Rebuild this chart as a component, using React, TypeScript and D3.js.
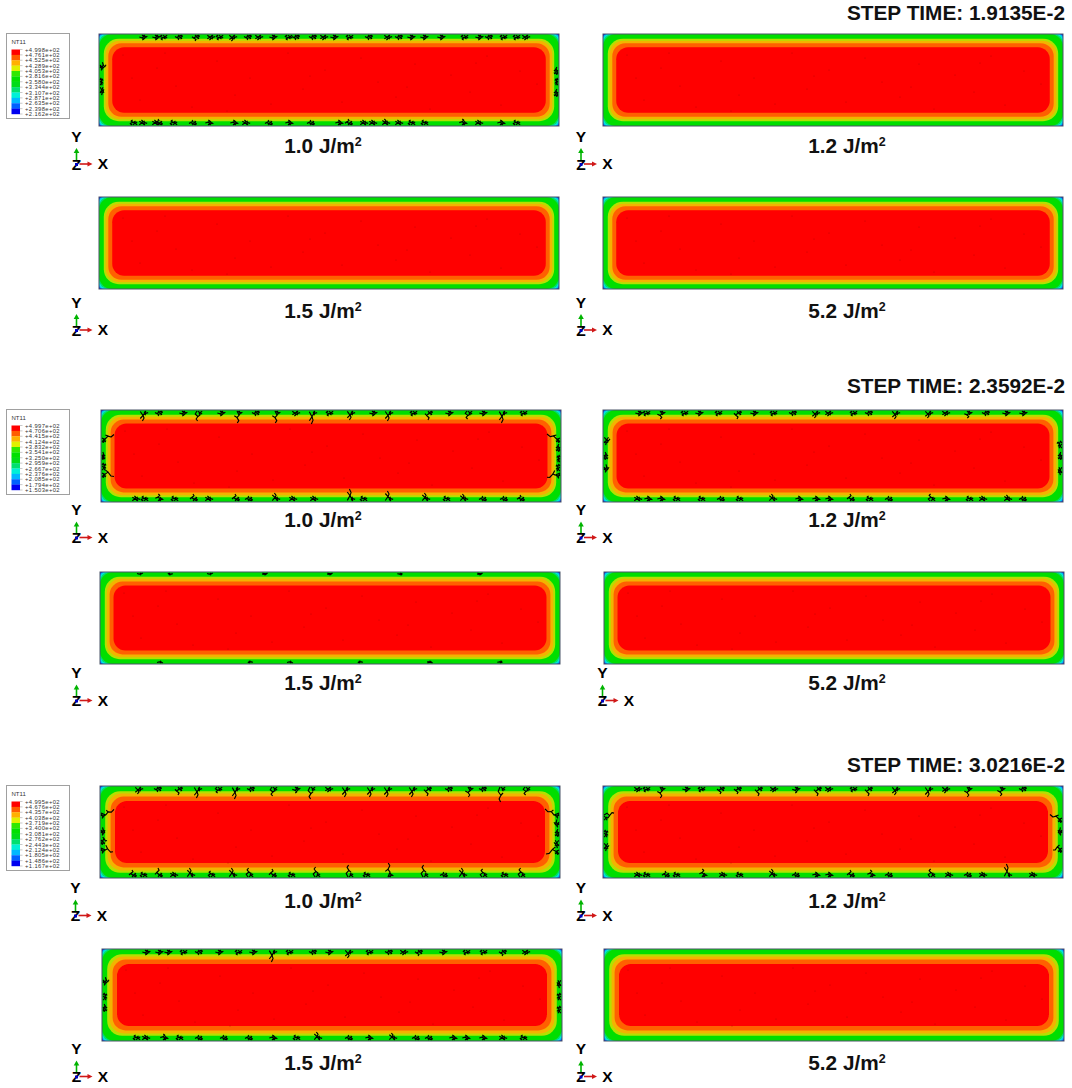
import * as d3 from 'd3';

type Crack = number[]; // [position along the edge, reach into the plate]
type PanelCracks = { top: Crack[]; bottom: Crack[]; left: Crack[]; right: Crack[] };

const stepTimes = ['1.9135E-2', '2.3592E-2', '3.0216E-2'];
const energies = ['1.0', '1.2', '1.5', '5.2'];

const legendStep1 = ['+4.998e+02', '+4.761e+02', '+4.525e+02', '+4.289e+02', '+4.053e+02', '+3.816e+02', '+3.580e+02', '+3.344e+02', '+3.107e+02', '+2.871e+02', '+2.635e+02', '+2.398e+02', '+2.162e+02'];
const legendStep2 = ['+4.997e+02', '+4.706e+02', '+4.415e+02', '+4.124e+02', '+3.832e+02', '+3.541e+02', '+3.250e+02', '+2.959e+02', '+2.667e+02', '+2.376e+02', '+2.085e+02', '+1.794e+02', '+1.503e+02'];
const legendStep3 = ['+4.995e+02', '+4.676e+02', '+4.357e+02', '+4.038e+02', '+3.719e+02', '+3.400e+02', '+3.081e+02', '+2.762e+02', '+2.443e+02', '+2.124e+02', '+1.805e+02', '+1.486e+02', '+1.167e+02'];
const legends = [legendStep1, legendStep2, legendStep3];

const legendColors = ['#ff0000', '#ff5c00', '#ffb000', '#e0f000', '#30e800', '#00e000', '#00dc18', '#00e070', '#00f0d8', '#00b8ff', '#0060ff', '#0000f0'];

// temperature bands of the plate, hot to cold, with depth from the edge for each step
const bandColors = ['#ff0000', '#ff6000', '#f2b400', '#b4e000'];
const bandDepths = [
  [13.2, 9.3, 6.7, 4.8],
  [13.5, 9.6, 6.8, 4.8],
  [15, 10.6, 7.6, 5.2],
];
const bandRadii = [12, 13, 14, 15];
const cornerColors = ['#00de00', '#00dc70', '#00e8d8', '#00a8ff'];
const cornerRadii = [13, 9, 6, 3.5];

const empty: PanelCracks = { top: [], bottom: [], left: [], right: [] };

const s1e10: PanelCracks = {
  top: [[43], [56], [63], [79], [96, 6], [111], [119], [133, 6], [148], [159], [173, 5], [188], [196], [213, 5], [224], [234], [249], [269], [288, 5], [299], [311], [324], [341], [364, 5], [379], [389], [403, 5], [416], [426]],
  bottom: [[33], [43], [56], [59, 6], [73], [93], [109], [134], [146], [169], [189], [211], [239], [249, 6], [264], [273], [286, 6], [299], [311], [324], [363, 6], [379], [401], [416]],
  left: [[31, 6], [46, 3], [56, 4]],
  right: [[36, 4], [46, 3], [58, 4]],
};
const s2e10: PanelCracks = {
  top: [[42, 10], [57], [81], [96, 10], [119], [136, 12], [154], [174, 12], [194], [211, 13], [227], [249, 9], [271], [287, 10], [311], [327, 9], [347], [366, 8], [381], [401, 12], [421]],
  bottom: [[34], [42], [57, 7], [72], [92, 7], [107], [134, 7], [147], [174, 8], [191], [212], [249, 12], [261], [287, 10], [324, 8], [344], [362, 7], [381], [402], [419, 6]],
  left: [[28, 12], [45, 3], [55, 4], [63, 12]],
  right: [[28, 13], [37, 4], [47, 3], [56, 4], [63, 13]],
};
const s2e12: PanelCracks = {
  top: [[35], [42], [57, 8], [80], [95], [114], [134, 8], [150], [169], [189], [212, 7], [225], [249], [265], [292, 8], [325, 7], [342], [364, 7], [382], [402], [419]],
  bottom: [[34], [44], [57], [72], [97], [117], [135], [169, 7], [195], [212], [225], [247, 7], [265], [285], [327, 7], [342], [365], [379], [404, 6], [419]],
  left: [[30, 6], [45, 4], [57, 5]],
  right: [[33, 5], [45, 4], [60, 4]],
};
const s2e15: PanelCracks = {
  top: [[40, 2], [70, 2], [110, 2], [165, 2], [230, 2], [300, 2], [380, 2]],
  bottom: [[60, 2], [150, 2], [190, 2], [260, 2], [330, 2], [400, 2]],
  left: [],
  right: [],
};
const s3e10: PanelCracks = {
  top: [[38, 7], [57], [78, 8], [97, 11], [117, 6], [135, 12], [150], [172, 9], [195, 6], [210, 12], [228], [245, 10], [270, 10], [287, 10], [312, 10], [327, 9], [348], [368, 10], [382], [400, 15], [425, 8]],
  bottom: [[32, 7], [42], [58, 9], [73], [90, 9], [110, 6], [132, 9], [148, 9], [172, 8], [190], [215, 10], [248, 12], [265], [288, 14], [323, 12], [343], [362, 9], [382, 8], [403], [420, 9]],
  left: [[27, 13], [44, 4], [54, 6], [62, 12]],
  right: [[27, 14], [36, 5], [46, 4], [57, 5], [64, 13]],
};
const s3e12: PanelCracks = {
  top: [[34], [42], [57, 11], [82], [97], [117, 7], [134, 7], [155, 9], [170], [192, 6], [214, 9], [225], [249], [265, 9], [292, 8], [325, 10], [342, 6], [364, 10], [397, 9], [419]],
  bottom: [[34], [42], [62, 6], [72], [99, 8], [119], [135], [169, 8], [192], [212], [225], [247, 7], [267, 7], [285], [327, 8], [345], [364], [379], [404, 13], [429]],
  left: [[29, 10], [46, 4], [60, 5]],
  right: [[32, 12], [44, 4], [62, 9]],
};
const s3e15: PanelCracks = {
  top: [[43], [56], [65], [80], [96], [116], [135], [150], [170, 12], [186], [210], [226], [246, 8], [266], [286], [301], [316, 6], [340], [363], [380], [400, 6], [423]],
  bottom: [[33], [43], [61, 6], [76], [96], [121], [146], [170], [193], [215, 8], [246], [266], [290, 7], [313], [326], [350], [363], [380], [400], [420]],
  left: [[31, 6], [46, 4], [58, 4]],
  right: [[34, 4], [46, 4], [59, 4]],
};
const cracks = [
  [s1e10, empty, empty, empty],
  [s2e10, s2e12, s2e15, empty],
  [s3e10, s3e12, s3e15, empty],
];

// dark specks scattered over the hot area, in plate units
const speckX = [24, 41, 58, 77, 93, 118, 136, 151, 172, 189, 204, 226, 243, 262, 279, 297, 316, 331, 352, 371, 388, 402, 421, 438, 33, 66, 128, 211, 308, 377];
const speckY = [21, 66, 34, 52, 73, 27, 61, 44, 70, 19, 55, 36, 68, 24, 48, 63, 30, 75, 41, 58, 22, 71, 37, 50, 44, 19, 77, 42, 53, 29];

// polylines of one crack: x is sideways, y runs from the edge inwards, both 0..1
const crackShapes: [number, number][][][] = [
  [[[0, 0], [0.5, 0.22], [-0.45, 0.5], [0.35, 0.75], [0, 1]], [[0.5, 0.22], [1, 0.05]], [[-0.45, 0.5], [-1, 0.28]]],
  [[[0, 0], [-0.6, 0.3], [0.3, 0.55], [-0.3, 0.8], [0.2, 1]], [[0.3, 0.55], [1, 0.4]]],
  [[[-0.9, 0.05], [0, 0.45], [0.9, 0.05]], [[0, 0.45], [0.35, 0.7], [-0.2, 1]], [[0, 0.45], [-0.9, 0.75]]],
  [[[0, 0], [0.7, 0.35], [0, 0.55], [0.6, 0.8], [0.1, 1]], [[0, 0.55], [-0.9, 0.4]]],
];

const W = 1072;
const H = 1088;
const FONT = '"Liberation Sans", Arial, sans-serif';

// layout: [left, top] of each plate, [x, y] of the X-Y-Z triad origin of each plate
const plateLeft = [
  [99, 603, 99, 603],
  [101, 603, 100, 604],
  [100, 603, 102, 604],
];
const plateTop = [
  [34, 34, 197, 197],
  [410, 410, 572, 572],
  [786, 786, 949, 949],
];
const triadX = [
  [76.5, 581, 76.5, 581],
  [76.5, 581, 76.5, 602.5],
  [75.5, 581, 76.5, 581],
];
const triadY = [
  [164, 164, 330, 330],
  [537.5, 537.5, 700.5, 700.5],
  [915.5, 915.5, 1076.5, 1076.5],
];
const labelX = [323, 847];
const labelY = [
  [153, 153, 318, 318],
  [527, 527, 690, 690],
  [908, 908, 1070, 1070],
];
const titleY = [20, 392.5, 772];
const legendTop = [33.5, 409.5, 785.5];
const PLATE_W = 460;
const PLATE_H = 92;

const line = d3.line<[number, number]>().x((d) => d[0]).y((d) => d[1]);

function crackPaths(c: PanelCracks, x: d3.ScaleLinear<number, number>, y: d3.ScaleLinear<number, number>) {
  const out: string[] = [];
  const add = (list: Crack[], place: (pos: number, side: number, depth: number) => [number, number]) => {
    list.forEach((k, i) => {
      const reach = k[1] ?? 5;
      const shape = (i * 3 + Math.round(k[0])) % crackShapes.length;
      crackShapes[shape].forEach((poly) => {
        out.push(line(poly.map((p) => place(k[0], p[0], p[1] * reach)))!);
      });
      // a shorter mirrored side branch thickens each cluster, as in the contour plot
      if (reach > 2.5) {
        crackShapes[(shape + 1) % crackShapes.length].forEach((poly) => {
          out.push(line(poly.map((p) => place(k[0] + 3, -p[0] * 0.8, p[1] * Math.min(reach, 4))))!);
        });
      }
    });
  };
  const wide = 3;
  add(c.top, (pos, s, d) => [x(pos + s * wide), y(1 + d)]);
  add(c.bottom, (pos, s, d) => [x(pos + s * wide), y(PLATE_H - 1 - d)]);
  // long side cracks lean away from mid height
  const lean = (pos: number, d: number) => (pos < 46 ? -1 : 1) * (d > 5 ? (d - 5) * 0.5 : 0);
  add(c.left, (pos, s, d) => [x(1 + d), y(pos + s * wide + lean(pos, d))]);
  add(c.right, (pos, s, d) => [x(PLATE_W - 1 - d), y(pos + s * wide + lean(pos, d))]);
  return out;
}

function Plate({ step, idx }: { step: number; idx: number }) {
  const left = plateLeft[step][idx];
  const top = plateTop[step][idx];
  const x = d3.scaleLinear().domain([0, PLATE_W]).range([left, left + PLATE_W]);
  const y = d3.scaleLinear().domain([0, PLATE_H]).range([top, top + PLATE_H]);
  const depths = bandDepths[step];
  // draw cold to hot
  const bands = bandColors.map((color, i) => ({ color, depth: depths[i], r: bandRadii[i] })).reverse();
  const paths = crackPaths(cracks[step][idx], x, y);
  return (
    <g>
      <g filter="url(#soft)">
        <rect x={x(0)} y={y(0)} width={PLATE_W} height={PLATE_H} fill="#0000e0" />
        {[...cornerColors].reverse().map((color, i) => {
          const r = [...cornerRadii].reverse()[i];
          return <rect key={color} x={x(0)} y={y(0)} width={PLATE_W} height={PLATE_H} rx={r} ry={r} fill={color} />;
        })}
        {bands.map((b) => (
          <rect
            key={b.color}
            x={x(b.depth)}
            y={y(b.depth)}
            width={x(PLATE_W - b.depth) - x(b.depth)}
            height={y(PLATE_H - b.depth) - y(b.depth)}
            rx={b.r}
            ry={b.r}
            fill={b.color}
          />
        ))}
        {speckX.map((sx, i) => (
          <circle key={i} cx={x(sx)} cy={y(speckY[i])} r={0.5} fill="#8a1200" opacity={0.6} />
        ))}
        {paths.map((d, i) => (
          <path key={i} d={d} fill="none" stroke="#000" strokeWidth={1.15} strokeLinejoin="round" />
        ))}
      </g>
      <rect x={x(0)} y={y(0)} width={PLATE_W} height={PLATE_H} fill="none" stroke="#4a5568" strokeWidth={1} />
    </g>
  );
}

function Triad({ cx, cy }: { cx: number; cy: number }) {
  const text = { fontFamily: FONT, fontWeight: 700, fontSize: 15.5, fill: '#000', textAnchor: 'middle' as const };
  return (
    <g>
      <line x1={cx} y1={cy - 4} x2={cx} y2={cy - 12} stroke="#00b400" strokeWidth={1.6} />
      <path d={`M${cx - 2.8},${cy - 11} L${cx + 2.8},${cy - 11} L${cx},${cy - 16} Z`} fill="#00b400" />
      <line x1={cx + 3} y1={cy} x2={cx + 12} y2={cy} stroke="#d01818" strokeWidth={1.6} />
      <path d={`M${cx + 11},${cy - 2.6} L${cx + 11},${cy + 2.6} L${cx + 16},${cy} Z`} fill="#d01818" />
      <text x={cx} y={cy - 22.5} {...text}>Y</text>
      <text x={cx} y={cy + 5.5} {...text}>Z</text>
      <rect x={cx - 1.5} y={cy - 1} width={3} height={3} fill="#0000c0" />
      <text x={cx + 26.5} y={cy + 5} {...text}>X</text>
    </g>
  );
}

function Legend({ step }: { step: number }) {
  const top = legendTop[step];
  const labels = legends[step];
  const y = d3.scaleLinear().domain([0, labels.length - 1]).range([top + 16, top + 80.5]);
  return (
    <g>
      <rect x={6.5} y={top} width={63} height={85} fill="#fff" stroke="#a0a0a0" strokeWidth={1} />
      <text x={11.5} y={top + 10.5} fontFamily={FONT} fontSize={6} fill="#333">NT11</text>
      {legendColors.map((c, i) => (
        <rect key={c} x={11.5} y={y(i)} width={8.5} height={y(i + 1) - y(i) + 0.2} fill={c} />
      ))}
      {labels.map((l, i) => (
        <g key={l}>
          <line x1={20} x2={22.5} y1={y(i)} y2={y(i)} stroke="#777" strokeWidth={0.4} />
          <text x={25} y={y(i) + 2} fontFamily={FONT} fontSize={5.8} letterSpacing={0.4} fill="#333">{l}</text>
        </g>
      ))}
    </g>
  );
}

export default function App() {
  return (
    <svg width={W} height={H} viewBox={`0 0 ${W} ${H}`} style={{ position: 'absolute', left: 0, top: 0, background: '#fff' }}>
      <defs>
        <filter id="soft" x="-2%" y="-5%" width="104%" height="110%">
          <feGaussianBlur stdDeviation="0.4" />
        </filter>
      </defs>
      {stepTimes.map((t, step) => (
        <g key={t}>
          <text x={1065} y={titleY[step]} textAnchor="end" fontFamily={FONT} fontWeight={700} fontSize={20.8} fill="#111">
            STEP TIME: {t}
          </text>
          <Legend step={step} />
          {energies.map((e, idx) => (
            <g key={e}>
              <Plate step={step} idx={idx} />
              <Triad cx={triadX[step][idx]} cy={triadY[step][idx]} />
              <text x={labelX[idx % 2]} y={labelY[step][idx]} textAnchor="middle" fontFamily={FONT} fontWeight={700} fontSize={20.8} fill="#111">
                {e} J/m<tspan fontSize={12.5} dy={-7}>2</tspan>
              </text>
            </g>
          ))}
        </g>
      ))}
    </svg>
  );
}
